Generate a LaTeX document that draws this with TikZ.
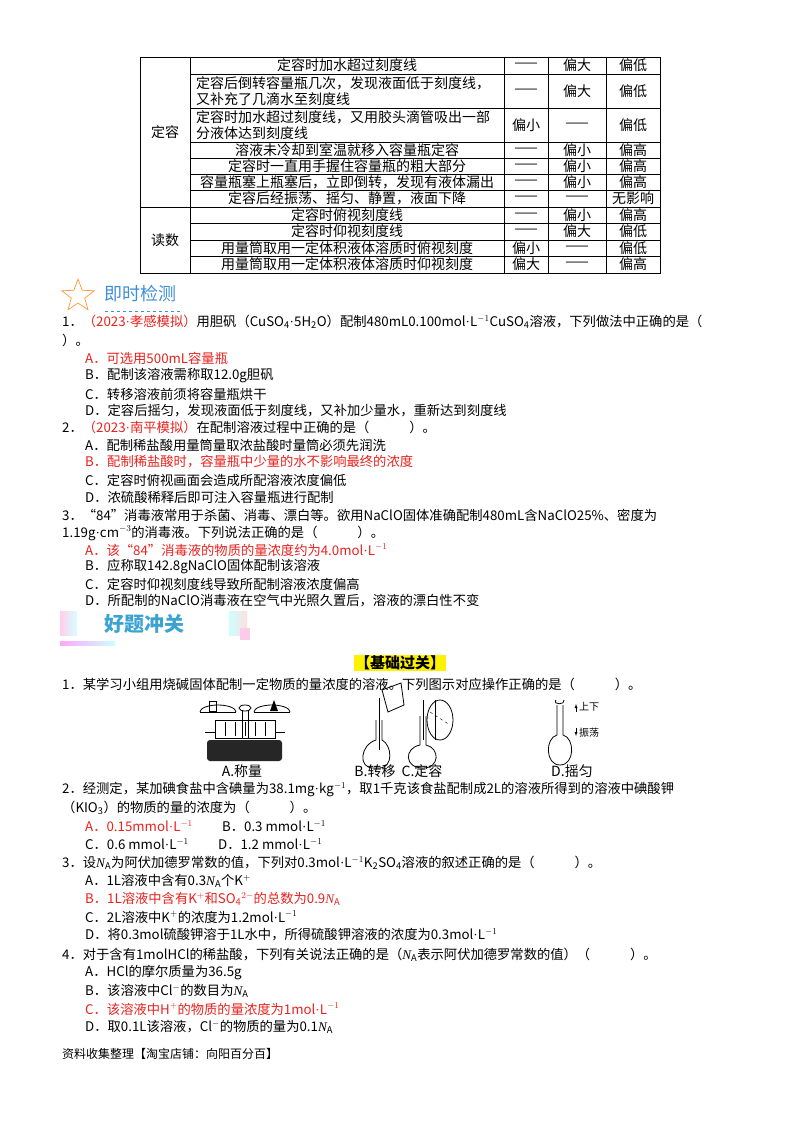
\documentclass[tikz,border=0pt]{standalone}
\usepackage{fontspec}
\setmainfont{Noto Sans CJK SC}
\newfontfamily\lat{Liberation Serif}
\usetikzlibrary{shapes.geometric}
\definecolor{qred}{HTML}{E8231E}
\definecolor{tblue}{HTML}{3E8FD8}
\definecolor{hblue}{HTML}{3AA3D2}
\tikzset{
 tx/.style={anchor=west,inner sep=0pt,font=\fontsize{13.3}{15}\selectfont},
 rd/.style={tx,text=qred},
 tc/.style={inner sep=0pt,font=\fontsize{14}{15}\selectfont,align=center},
 tl/.style={inner sep=0pt,font=\fontsize{14}{15.5}\selectfont,align=left,anchor=west},
 grid/.style={line width=0.6pt},
 drw/.style={line width=0.8pt}
}
\newcommand{\mL}{$^{-1}$}
\newcommand{\cd}{{\lat ·}}
\newcommand{\NA}{{\lat\itshape N}\textsubscript{A}}
\begin{document}
\begin{tikzpicture}[x=1pt,y=-1pt]
\useasboundingbox (0,0) rectangle (800,1132);
\fill[white] (0,0) rectangle (800,1132);
% table
\draw[grid] (140,57) rectangle (660,273);
\foreach \xx in {190,504,548,606} \draw[grid] (\xx,57) -- (\xx,273);
\foreach \yy in {74,108,142,158,174,190,223,240,256} \draw[grid] (190,\yy) -- (660,\yy);
\draw[grid] (140,207) -- (660,207);
\node[tc] (g1) at (165,132) {定容};
\node[tc] (g2) at (165,240) {读数};
\def\rowa#1#2#3#4#5{\node[tc] at (347,#1) {#2}; \node[tc] at (526,#1) {#3}; \node[tc] at (577,#1) {#4}; \node[tc] at (633,#1) {#5};}
\rowa{65.5}{定容时加水超过刻度线}{——}{偏大}{偏低}
\node[tl] (r2) at (196,91) {定容后倒转容量瓶几次，发现液面低于刻度线，\\又补充了几滴水至刻度线};
\node[tc] at (526,91) {——}; \node[tc] at (577,91) {偏大}; \node[tc] at (633,91) {偏低};
\node[tl] (r3) at (196,125) {定容时加水超过刻度线，又用胶头滴管吸出一部\\分液体达到刻度线};
\node[tc] at (526,125) {偏小}; \node[tc] at (577,125) {——}; \node[tc] at (633,125) {偏低};
\rowa{150}{溶液未冷却到室温就移入容量瓶定容}{——}{偏小}{偏高}
\rowa{166}{定容时一直用手握住容量瓶的粗大部分}{——}{偏小}{偏高}
\rowa{182}{容量瓶塞上瓶塞后，立即倒转，发现有液体漏出}{——}{偏小}{偏高}
\rowa{198.5}{定容后经振荡、摇匀、静置，液面下降}{——}{——}{无影响}
\rowa{215}{定容时俯视刻度线}{——}{偏小}{偏高}
\rowa{231.5}{定容时仰视刻度线}{——}{偏大}{偏低}
\rowa{248}{用量筒取用一定体积液体溶质时俯视刻度}{偏小}{——}{偏低}
\rowa{264.5}{用量筒取用一定体积液体溶质时仰视刻度}{偏大}{——}{偏高}
% banner 1
\node[star,star points=5,star point ratio=2.4,draw=orange!80,line width=0.7pt,minimum size=34pt,inner sep=0pt] (star) at (78,296) {};
\node[tx,text=tblue,font=\fontsize{18}{19}\selectfont] (b1) at (104,294) {即时检测};
\draw[tblue,dashed,line width=1pt] (105,311) -- (183,311);
% section 1
\node[tx] (q1) at (62,322) {1．\textcolor{qred}{（2023\cd 孝感模拟）}用胆矾（CuSO\textsubscript{4}\cd 5H\textsubscript{2}O）配制480mL0.100mol\cd L\mL CuSO\textsubscript{4}溶液，下列做法中正确的是（};
\node[tx] (q1b) at (62,340) {）。};
\node[rd] (q1a) at (85,358) {A．可选用500mL容量瓶};
\node[tx] (q1bb) at (85,376) {B．配制该溶液需称取12.0g胆矾};
\node[tx] (q1c) at (85,394) {C．转移溶液前须将容量瓶烘干};
\node[tx] (q1d) at (85,411) {D．定容后摇匀，发现液面低于刻度线，又补加少量水，重新达到刻度线};
\node[tx] (q2) at (62,427) {2．\textcolor{qred}{（2023\cd 南平模拟）}在配制溶液过程中正确的是（\hspace{3em}）。};
\node[tx] (q2a) at (85,445) {A．配制稀盐酸用量筒量取浓盐酸时量筒必须先润洗};
\node[rd] (q2b) at (85,462) {B．配制稀盐酸时，容量瓶中少量的水不影响最终的浓度};
\node[tx] (q2c) at (85,480) {C．定容时俯视画面会造成所配溶液浓度偏低};
\node[tx] (q2d) at (85,497) {D．浓硫酸稀释后即可注入容量瓶进行配制};
\node[tx] (q3) at (62,515) {3．“84”消毒液常用于杀菌、消毒、漂白等。欲用NaClO固体准确配制480mL含NaClO25\%、密度为};
\node[tx] (q3b) at (62,533) {1.19g\cd cm$^{-3}$的消毒液。下列说法正确的是（\hspace{3em}）。};
\node[rd] (q3a) at (85,550) {A．该“84”消毒液的物质的量浓度约为4.0mol\cd L\mL};
\node[tx] (q3bb) at (85,567) {B．应称取142.8gNaClO固体配制该溶液};
\node[tx] (q3c) at (85,584) {C．定容时仰视刻度线导致所配制溶液浓度偏高};
\node[tx] (q3d) at (85,601) {D．所配制的NaClO消毒液在空气中光照久置后，溶液的漂白性不变};
% banner 2
\fill[left color=pink!70!magenta!40,right color=cyan!15] (60,611) rectangle (77,635);
\fill[left color=cyan!20,right color=pink!50] (229,611) rectangle (247,635);
\fill[magenta!20] (240,628) rectangle (250,640);
\fill[left color=magenta!35,right color=cyan!20] (60,641) rectangle (115,645);
\node[tx,text=hblue,font=\fontsize{20}{21}\bfseries\selectfont] (b2) at (104,624) {好题冲关};
% section 2
\node[fill=yellow,inner sep=1pt,font=\fontsize{15}{17}\bfseries\selectfont] (jc) at (400,663) {【基础过关】};
\node[tx] (p1) at (62,684) {1．某学习小组用烧碱固体配制一定物质的量浓度的溶液。下列图示对应操作正确的是（\hspace{3em}）。};
% balance
\fill[black!85,rounded corners=3pt] (207,740) rectangle (282,761);
\draw[drw] (215,720) rectangle (275,738);
\foreach \xx in {225,235,245,255,265} \draw (\xx,722) -- (\xx,736);
\draw[drw] (242,710) -- (242,738) (248,710) -- (248,738);
\draw[drw] (245,708) ellipse (6 and 3);
\draw[drw] (200,712) arc (180:360:18 and 7); \draw[drw] (200,712) -- (236,712);
\draw[drw] (254,712) arc (180:360:18 and 7); \draw[drw] (254,712) -- (290,712);
\draw[drw] (209,701) rectangle (216,711);
\fill (270,711) -- (278,711) -- (274,700) -- cycle;
\draw[drw] (215,732) -- (205,732) (275,732) -- (285,732);
\node[tc] (la) at (242,771) {A.称量};
% transfer
\draw[drw] (376,720) -- (376,740) .. controls (360,745) and (358,768) .. (373,768) -- (379,768) .. controls (394,768) and (392,745) .. (382,740) -- (382,720);
\draw[drw] (379,698) -- (379,750);
\draw[drw] (382,690) -- (401,683) -- (404,705) -- (388,712) -- cycle;
\draw[drw] (420,716) -- (420,745) .. controls (404,748) and (404,768) .. (423,768) .. controls (440,768) and (440,748) .. (426,745) -- (426,716);
\draw[drw] (423,700) -- (423,740);
\draw[drw] (440,720) ellipse (13 and 20);
\draw[dashed] (430,712) -- (450,725);
\draw[drw] (435,700) -- (435,740);
\node[tc] (lb) at (375,771) {B.转移};
\node[tc] (lc) at (422,771) {C.定容};
% shake
\draw[drw] (557,705) -- (557,735) .. controls (545,738) and (545,765) .. (560,765) .. controls (575,765) and (575,738) .. (563,735) -- (563,705);
\draw[drw] (556,700) .. controls (552,705) and (566,705) .. (564,700);
\draw[-latex] (576,712) -- (576,704); \draw[-latex] (576,728) -- (576,736);
\node[tx,font=\fontsize{10}{11}\selectfont] (ud) at (579,707) {上下};
\node[tx,font=\fontsize{10}{11}\selectfont] (zd) at (579,733) {振荡};
\node[tc] (ld) at (572,771) {D.摇匀};
\node[tx] (p2) at (62,790) {2．经测定，某加碘食盐中含碘量为38.1mg\cd kg$^{-1}$，取1千克该食盐配制成2L的溶液所得到的溶液中碘酸钾};
\node[tx] (p2b) at (62,808) {（KIO\textsubscript{3}）的物质的量的浓度为（\hspace{3em}）。};
\node[tx] (p2a) at (85,826) {\textcolor{qred}{A．0.15mmol\cd L\mL}\hspace{2.2em}B．0.3\ mmol\cd L\mL};
\node[tx] (p2c) at (85,844) {C．0.6\ mmol\cd L\mL\hspace{2.2em}D．1.2\ mmol\cd L\mL};
\node[tx] (p3) at (62,863) {3．设\NA 为阿伏加德罗常数的值，下列对0.3mol\cd L\mL K\textsubscript{2}SO\textsubscript{4}溶液的叙述正确的是（\hspace{3em}）。};
\node[tx] (p3a) at (85,881) {A．1L溶液中含有0.3\NA 个K$^{+}$};
\node[rd] (p3b) at (85,899) {B．1L溶液中含有K$^{+}$和SO\textsubscript{4}$^{2-}$的总数为0.9\NA};
\node[tx] (p3c) at (85,917) {C．2L溶液中K$^{+}$的浓度为1.2mol\cd L\mL};
\node[tx] (p3d) at (85,935) {D．将0.3mol硫酸钾溶于1L水中，所得硫酸钾溶液的浓度为0.3mol\cd L\mL};
\node[tx] (p4) at (62,955) {4．对于含有1molHCl的稀盐酸，下列有关说法正确的是（\NA 表示阿伏加德罗常数的值）（\hspace{3em}）。};
\node[tx] (p4a) at (85,973) {A．HCl的摩尔质量为36.5g};
\node[tx] (p4b) at (85,991) {B．该溶液中Cl$^{-}$的数目为\NA};
\node[rd] (p4c) at (85,1009) {C．该溶液中H$^{+}$的物质的量浓度为1mol\cd L\mL};
\node[tx] (p4d) at (85,1027) {D．取0.1L该溶液，Cl$^{-}$的物质的量为0.1\NA};
\node[tx,font=\fontsize{12}{13}\selectfont] (ft) at (62,1054) {资料收集整理【淘宝店铺：向阳百分百】};
\end{tikzpicture}
\end{document}
